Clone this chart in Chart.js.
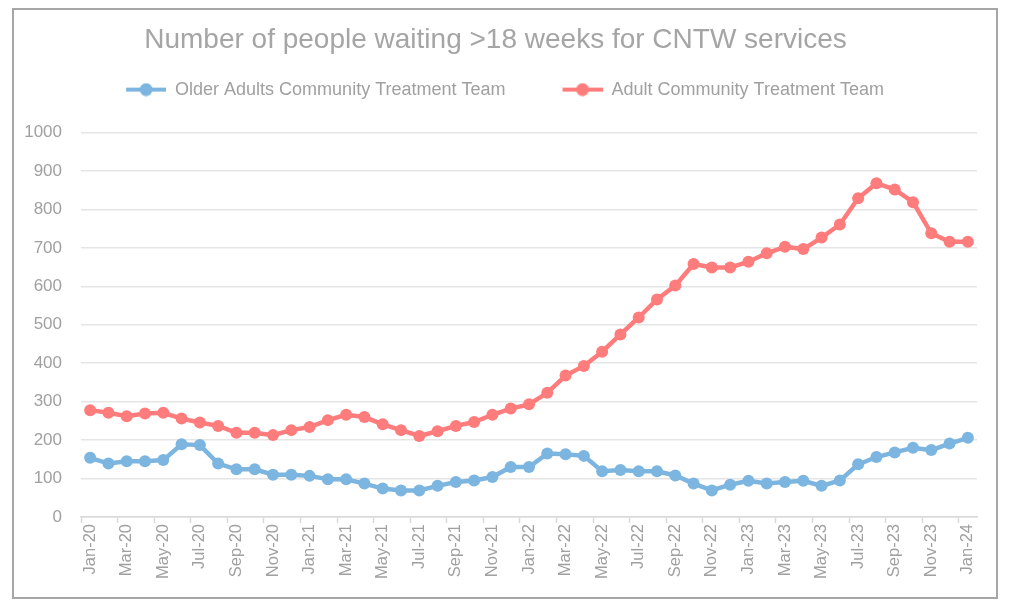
<!DOCTYPE html>
<html>
<head>
<meta charset="utf-8">
<script src="https://cdn.jsdelivr.net/npm/chart.js@4.4.1/dist/chart.umd.min.js"></script>
<style>
  body { margin: 0; background: #fff; }
  .frame {
    position: absolute; left: 12px; top: 8px;
    width: 986px; height: 591px;
    box-sizing: border-box; border: 2px solid #a6a6a6;
  }
  .frame div { position: relative; width: 982px; height: 587px; }
</style>
</head>
<body>
<div class="frame"><div><canvas id="waitChart"></canvas></div></div>
<script>
// months, Jan-20 .. Jan-24
const months = [
  "Jan-20", "Feb-20", "Mar-20", "Apr-20", "May-20", "Jun-20", "Jul-20", "Aug-20", "Sep-20", "Oct-20", "Nov-20", "Dec-20",
  "Jan-21", "Feb-21", "Mar-21", "Apr-21", "May-21", "Jun-21", "Jul-21", "Aug-21", "Sep-21", "Oct-21", "Nov-21", "Dec-21",
  "Jan-22", "Feb-22", "Mar-22", "Apr-22", "May-22", "Jun-22", "Jul-22", "Aug-22", "Sep-22", "Oct-22", "Nov-22", "Dec-22",
  "Jan-23", "Feb-23", "Mar-23", "Apr-23", "May-23", "Jun-23", "Jul-23", "Aug-23", "Sep-23", "Oct-23", "Nov-23", "Dec-23",
  "Jan-24",
];

// Older Adults Community Treatment Team
const olderAdults = [
  154, 139, 145, 145, 148, 189, 187, 139, 124, 124, 110, 110,
  107, 98, 98, 87, 74, 69, 69, 81, 91, 95, 104, 130,
  130, 165, 163, 159, 119, 122, 119, 119, 108, 87, 69, 84,
  94, 87, 91, 94, 81, 95, 137, 156, 168, 180, 174, 191,
  206,
];

// Adult Community Treatment Team
const adults = [
  278, 271, 262, 269, 271, 256, 246, 237, 219, 219, 213, 226,
  234, 252, 266, 260, 241, 226, 211, 223, 237, 247, 266, 282,
  293, 323, 368, 393, 430, 475, 519, 566, 602, 658, 649, 649,
  664, 686, 703, 697, 727, 761, 829, 868, 852, 819, 738, 716,
  716,
];

const yTicks = { min: 0, max: 1000, step: 100 };

const blue = "#7cb5df";
const red = "#ff7c7c";
const textGrey = "#a0a0a0";
const font = "'Liberation Sans', Arial, sans-serif";

// legend mark: line with a dot, drawn at the right of the box
function legendMark(color) {
  const c = document.createElement("canvas");
  c.width = 87;
  c.height = 14;
  const g = c.getContext("2d");
  g.strokeStyle = color;
  g.lineWidth = 4;
  g.beginPath();
  g.moveTo(47, 7);
  g.lineTo(87, 7);
  g.stroke();
  g.fillStyle = color;
  g.beginPath();
  g.arc(67, 7, 6.5, 0, Math.PI * 2);
  g.fill();
  return c;
}
const marks = [legendMark(blue), legendMark(red)];

// nudge legend so it sits centred like the original
const legendShift = {
  id: "legendShift",
  afterLayout(chart) {
    chart.legend.left -= 14;
    chart.legend.right -= 14;
  },
};

new Chart(document.getElementById("waitChart").getContext("2d"), {
  type: "line",
  data: {
    labels: months,
    datasets: [
      {
        label: "Older Adults Community Treatment Team",
        data: olderAdults,
        borderColor: blue,
        backgroundColor: blue,
        borderWidth: 4.5,
        pointRadius: 6,
        pointBorderWidth: 0,
        fill: false,
      },
      {
        label: "Adult Community Treatment Team",
        data: adults,
        borderColor: red,
        backgroundColor: red,
        borderWidth: 4.5,
        pointRadius: 6,
        pointBorderWidth: 0,
        fill: false,
      },
    ],
  },
  plugins: [legendShift],
  options: {
    responsive: true,
    maintainAspectRatio: false,
    animation: false,
    layout: { padding: { left: 0, right: 19, top: 0, bottom: 0 } },
    plugins: {
      title: {
        display: true,
        text: "Number of people waiting >18 weeks for CNTW services",
        color: "#a5a5a5",
        font: { family: font, size: 28, weight: "normal", lineHeight: 1.2 },
        padding: { top: 13, bottom: 14 },
      },
      legend: {
        display: true,
        labels: {
          color: textGrey,
          font: { family: font, size: 18 },
          usePointStyle: true,
          pointStyleWidth: 87,
          boxHeight: 14,
          padding: 10,
          generateLabels: (chart) =>
            Chart.defaults.plugins.legend.labels
              .generateLabels(chart)
              .map((item, i) => ({ ...item, pointStyle: marks[i] })),
        },
      },
      // empty spacer below the legend
      subtitle: {
        display: true,
        text: "",
        weight: 500,
        font: { size: 10, lineHeight: 1 },
        padding: { top: 0, bottom: 14 },
      },
      tooltip: { enabled: false },
    },
    scales: {
      x: {
        offset: true,
        grid: {
          offset: true,
          drawOnChartArea: false,
          drawTicks: true,
          tickLength: 6,
          tickWidth: 1.5,
          tickColor: (ctx) => (ctx.index % 2 === 0 ? "#d9d9d9" : "rgba(0,0,0,0)"),
        },
        border: { color: "#d9d9d9", width: 1.5 },
        ticks: {
          autoSkip: false,
          minRotation: 90,
          maxRotation: 90,
          padding: 1,
          color: textGrey,
          font: { family: font, size: 16.5 },
          callback: function (value, index) {
            return index % 2 === 0 ? this.getLabelForValue(value) : "";
          },
        },
        afterFit: (scale) => {
          scale.height = 80;
        },
      },
      y: {
        min: yTicks.min,
        max: yTicks.max,
        grid: { color: "#e5e5e5", lineWidth: 1.5, drawTicks: false },
        border: { display: false },
        ticks: {
          stepSize: yTicks.step,
          padding: 19,
          color: textGrey,
          font: { family: font, size: 17 },
          callback: (value) => String(value),
        },
        afterFit: (scale) => {
          scale.width = 67;
        },
      },
    },
  },
});
</script>
</body>
</html>
